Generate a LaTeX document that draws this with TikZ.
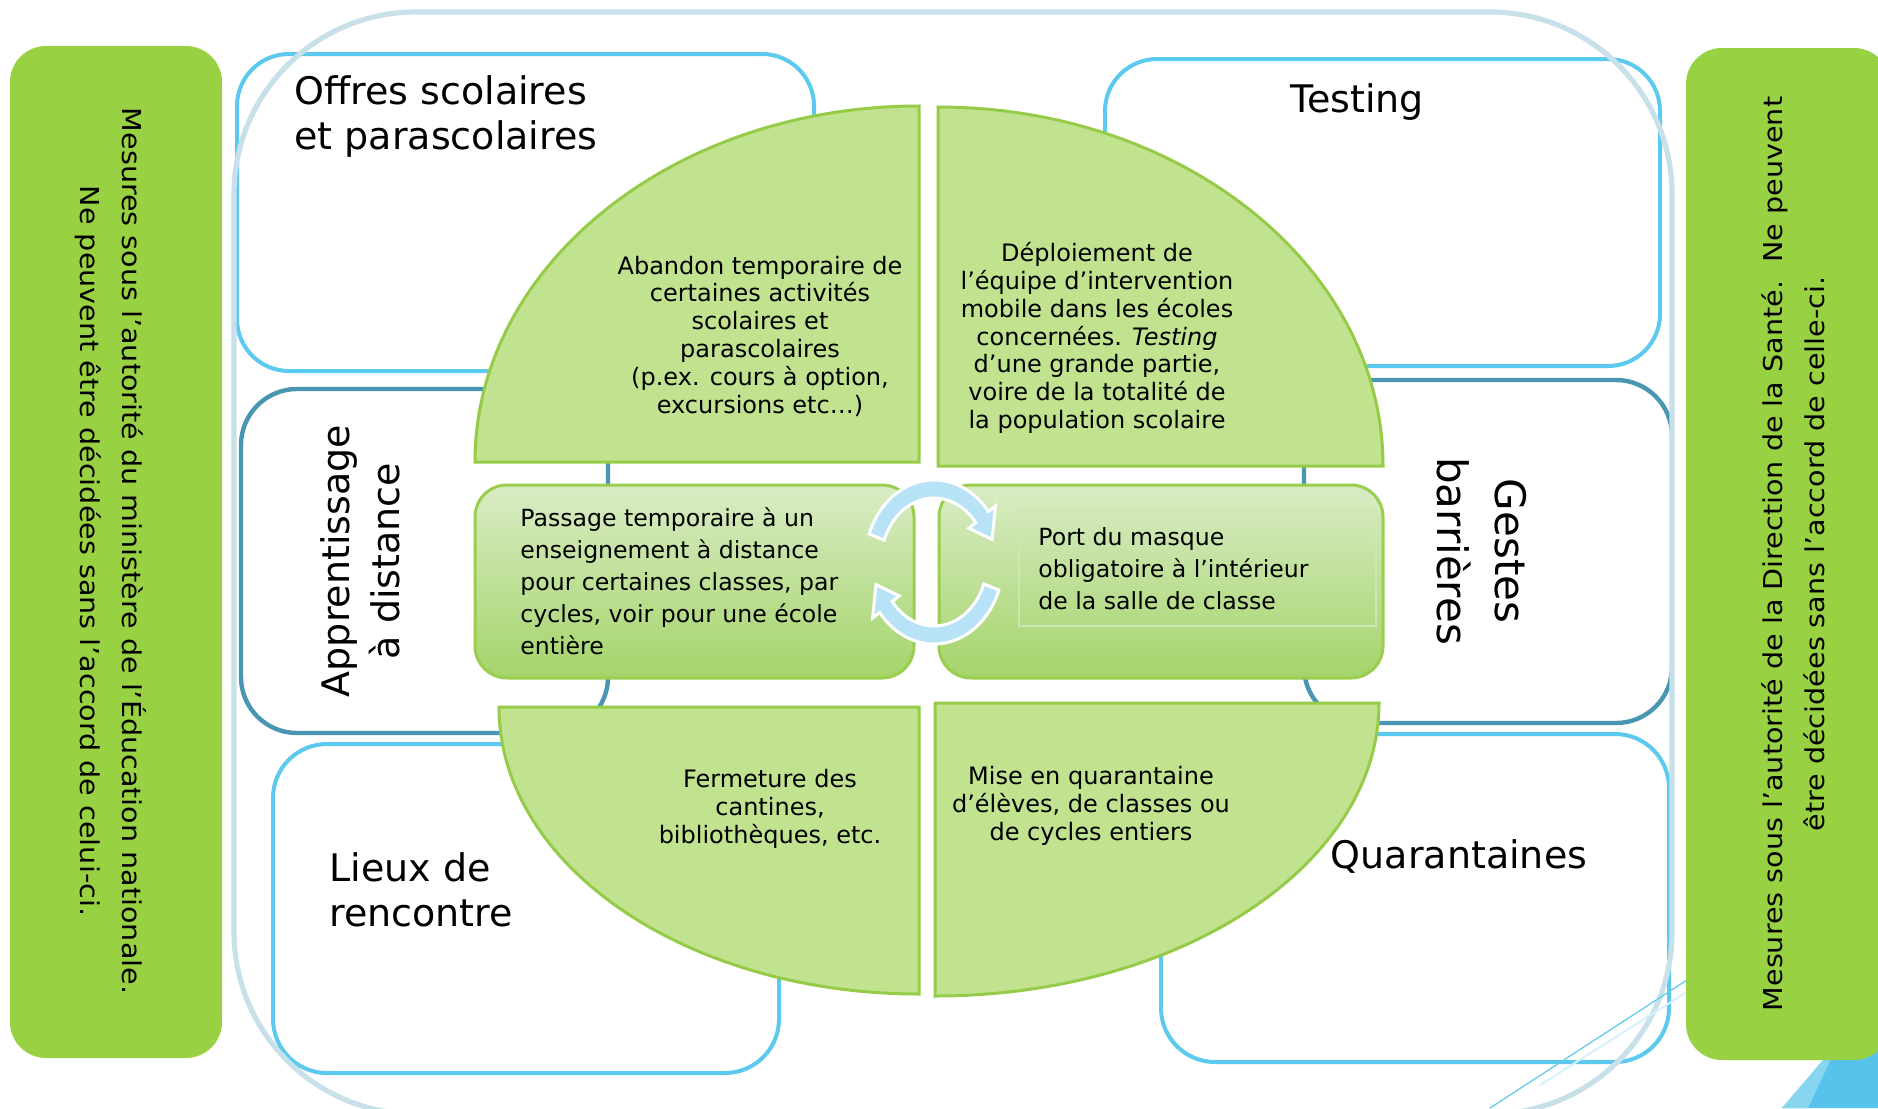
\documentclass[tikz,border=0pt]{standalone}
\usepackage{fontspec}
\setmainfont{DejaVu Sans}
\newfontfamily\widefont{DejaVu Sans}[FakeStretch=1.1]
\definecolor{sidegreen}{HTML}{98D142}
\definecolor{qfill}{HTML}{C1E38F}
\definecolor{qline}{HTML}{96CB48}
\definecolor{mtop}{HTML}{D9ECC5}
\definecolor{mbot}{HTML}{A4D46A}
\definecolor{mline}{HTML}{9BCE4E}
\definecolor{minner}{HTML}{CDE7B0}
\definecolor{lblue}{HTML}{5CC9EE}
\definecolor{tealb}{HTML}{4896B2}
\definecolor{outerc}{HTML}{C8E0EA}
\definecolor{arrowblue}{HTML}{B8E2F5}
\definecolor{tri}{HTML}{55C3EC}
\tikzset{
  lbox/.style={draw=lblue, line width=2pt},
  tbox/.style={draw=tealb, line width=2.2pt},
  quarter/.style={fill=qfill, draw=qline, line width=1.5pt},
  midbox/.style={top color=mtop, bottom color=mbot, draw=mline, line width=1.5pt, rounded corners=16pt},
  sidebox/.style={fill=sidegreen, rounded corners=18pt},
  circarrow/.style={fill=arrowblue, draw=white, line width=1.5pt, line join=miter},
  biglab/.style={font=\fontsize{19}{22.5}\selectfont, inner sep=0pt},
  rotlab/.style={font=\fontsize{19}{25}\selectfont, inner sep=0pt, align=center},
  qtext/.style={font=\fontsize{12}{13.9}\selectfont, inner sep=0pt, align=center},
  mtext/.style={font=\fontsize{11.8}{16}\selectfont, inner sep=0pt, align=left},
  sidetext/.style={font=\widefont\fontsize{13}{21}\selectfont, inner sep=0pt, align=center}
}
\begin{document}
\begin{tikzpicture}[x=0.5pt,y=-0.5pt]
\useasboundingbox (0,0) rectangle (1878,1108);
\clip (0,0) rectangle (1878,1108);
\fill[white] (0,0) rectangle (1878,1108);
% category boxes
\draw[lbox, rounded corners=26pt] (237,54) rectangle (814,371);
\draw[lbox, rounded corners=26pt] (1105,59) rectangle (1660,366);
\draw[tbox, rounded corners=28pt] (241,389) rectangle (608,733);
\draw[tbox, rounded corners=28pt] (1304,380) rectangle (1672,723);
\draw[lbox, rounded corners=27pt] (273,744) rectangle (779,1073);
\draw[lbox, rounded corners=27pt] (1161,734) rectangle (1669,1062);
% outer frame
\draw[outerc, line width=2.6pt, rounded corners=91pt] (234,12) rectangle (1672,1114);
% decorative lines and corner triangle
\draw[lblue, line width=0.6pt] (1490,1108) -- (1690,978);
\draw[lblue!25, line width=1pt] (1540,1085) -- (1690,990);
\fill[tri] (1782,1108) -- (1878,996) -- (1878,1108) -- cycle;
\fill[tri!70!white] (1782,1108) -- (1826,1057) -- (1832,1057) -- (1808,1108) -- cycle;
% quarter shapes
\path[quarter] (919,462) -- (475,462) arc[start angle=180, end angle=270, x radius=444, y radius=356] -- cycle;
\path[quarter] (938,466) -- (938,107) arc[start angle=270, end angle=360, x radius=445, y radius=359] -- cycle;
\path[quarter] (919,707) -- (499,707) arc[start angle=180, end angle=90, x radius=420, y radius=287] -- cycle;
\path[quarter] (935,703) -- (1379,703) arc[start angle=0, end angle=90, x radius=444, y radius=293] -- cycle;
% middle boxes
\path[midbox] (475,485) rectangle (914,678);
\path[midbox] (939,485) rectangle (1383,678);
\draw[minner, line width=0.7pt] (1019,510) rectangle (1376,626);
% circular arrows
\path[circarrow] ([shift={(200:69 and 82)}]934,562)
  arc[start angle=200, end angle=322, x radius=69, y radius=82]
  -- ([shift={(322:78 and 91)}]934,562)
  -- ([shift={(342:61 and 73)}]934,562)
  -- ([shift={(322:44 and 55)}]934,562)
  -- ([shift={(322:53 and 64)}]934,562)
  arc[start angle=322, end angle=200, x radius=53, y radius=64] -- cycle;
\path[circarrow] ([shift={(20:69 and 82)}]934,562)
  arc[start angle=20, end angle=142, x radius=69, y radius=82]
  -- ([shift={(142:78 and 91)}]934,562)
  -- ([shift={(162:61 and 73)}]934,562)
  -- ([shift={(142:44 and 55)}]934,562)
  -- ([shift={(142:53 and 64)}]934,562)
  arc[start angle=142, end angle=20, x radius=53, y radius=64] -- cycle;
% side bars
\path[sidebox] (10,46) rectangle (222,1058);
\path[sidebox] (1686,48) rectangle (1890,1060);
% labels
\node[biglab, anchor=west, align=left] (offres) at (294,117) {Offres scolaires\\et parascolaires};
\node[biglab] (testing) at (1357,102) {Testing};
\node[rotlab, rotate=90] (appr) at (360,561) {Apprentissage\\à distance};
\node[rotlab, rotate=-90, font=\fontsize{21}{29}\selectfont] (gestes) at (1482,551) {Gestes\\barrières};
\node[biglab, anchor=west, align=left] (lieux) at (329,890) {Lieux de\\rencontre};
\node[biglab] (quar) at (1459,857) {Quarantaines};
% quarter texts
\node[qtext] (abandon) at (760,336) {Abandon temporaire de\\certaines activités\\scolaires et\\parascolaires\\(p.ex. cours à option,\\excursions etc…)};
\node[qtext] (deploi) at (1097,338) {Déploiement de\\l’équipe d’intervention\\mobile dans les écoles\\concernées. \textit{Testing}\\d’une grande partie,\\voire de la totalité de\\la population scolaire};
\node[qtext] (ferm) at (770,809) {Fermeture des\\cantines,\\bibliothèques, etc.};
\node[qtext] (mise) at (1091,806) {Mise en quarantaine\\d’élèves, de classes ou\\de cycles entiers};
% middle texts
\node[mtext, anchor=west] (passage) at (520,581) {Passage temporaire à un\\enseignement à distance\\pour certaines classes, par\\cycles, voir pour une école\\entière};
\node[mtext, anchor=west] (masque) at (1038,569) {Port du masque\\obligatoire à l’intérieur\\de la salle de classe};
% side texts
\node[sidetext, rotate=-90] (sideL) at (111,551) {Mesures sous l’autorité du ministère de l’Éducation nationale.\\Ne peuvent être décidées sans l’accord de celui-ci.};
\node[sidetext, rotate=90] (sideR) at (1793,554) {Mesures sous l’autorité de la Direction de la Santé.\ \ Ne peuvent\\être décidées sans l’accord de celle-ci.};
\end{tikzpicture}
\end{document}
